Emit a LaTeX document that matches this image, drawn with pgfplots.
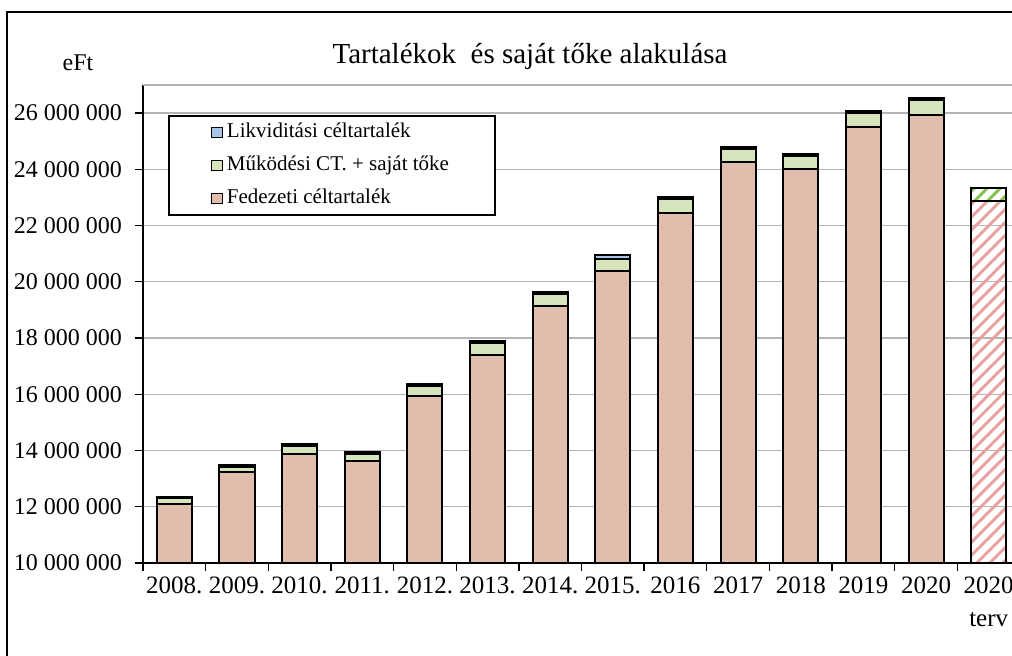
\documentclass[border=0pt]{standalone}
\usepackage{pgfplots}
\pgfplotsset{compat=1.18}
\usepackage{fontspec}
\setmainfont{Liberation Serif}
\usetikzlibrary{patterns.meta}
\definecolor{fedcol}{HTML}{E0BDAC}
\definecolor{grcol}{HTML}{D6E4BB}
\definecolor{blcol}{HTML}{A6C3E8}
\definecolor{tervpink}{HTML}{E8A3A0}
\definecolor{tervgreen}{HTML}{86C44C}
\definecolor{gridgray}{HTML}{B4B4B4}
\pgfplotsset{common/.style={
  scale only axis, width=438.5pt, height=239.06pt,
  at={(71.5pt,46pt)}, anchor=south west,
  xmin=-0.5, xmax=13.5, ymin=10000000, ymax=27000000,
  ybar stacked, bar width=0.56,
}}
\begin{document}
\begin{tikzpicture}
\useasboundingbox (0,0) rectangle (506pt,327.5pt);
\draw[line width=0.75pt] (3.5pt,-5pt) -- (3.5pt,321.5pt) -- (515pt,321.5pt);
\node[font=\fontsize{14.5}{17}\selectfont] at (265pt,299pt) {Tartalékok\ \ és saját tőke alakulása};
\node[font=\fontsize{12}{14}\selectfont] at (39pt,296pt) {eFt};
\begin{axis}[common,
  axis x line*=bottom, axis y line*=left,
  axis line style={-, line width=0.7pt, black},
  tick align=outside, major tick length=4pt,
  tick style={black, line width=0.7pt},
  scaled y ticks=false,
  ytick={10000000,12000000,14000000,16000000,18000000,20000000,22000000,24000000,26000000},
  yticklabels={10 000 000,12 000 000,14 000 000,16 000 000,18 000 000,20 000 000,22 000 000,24 000 000,26 000 000},
  yticklabel style={font=\fontsize{12}{15}\selectfont, xshift=-3pt},
  ymajorgrids, major grid style={color=gridgray, line width=0.7pt},
  extra y ticks={27000000}, extra y tick labels={},
  extra y tick style={grid=major, tick style={draw=none}},
  xtick={-0.5,0.5,...,12.5},
  xticklabels={{},{},{},{},{},{},{},{},{},{},{},{},{},{}},
  extra x ticks={0,1,2,3,4,5,6,7,8,9,10,11,12,13},
  extra x tick labels={2008.,2009.,2010.,2011.,2012.,2013.,2014.,2015.,2016,2017,2018,2019,2020,{2020\\terv}},
  extra x tick style={grid=none, tick style={draw=none},
    xticklabel style={font=\fontsize{12.5}{16.5}\selectfont, align=center, anchor=north, yshift=0.5pt}},
  legend image code/.code={\draw[#1, line width=0.6pt] (0pt,-2.4pt) rectangle (5.5pt,2.4pt);},
  reverse legend,
  legend cell align=left,
  legend style={at={(0.0285,0.937)}, anchor=north west, draw=black, line width=0.8pt,
    inner xsep=21pt, inner ysep=3.5pt, font=\fontsize{10.5}{12}\selectfont, row sep=7pt,
    nodes={inner ysep=0pt, text height=7.5pt, text depth=2pt}},
]
\addplot[fill=fedcol, draw=black, line width=1pt] coordinates {
(0,12100000) (1,13240000) (2,13880000) (3,13630000) (4,15940000) (5,17400000) (6,19140000)
(7,20380000) (8,22440000) (9,24260000) (10,24010000) (11,25500000) (12,25930000)};
\addlegendentry{Fedezeti céltartalék}
\addplot[fill=grcol, draw=black, line width=1pt] coordinates {
(0,200000) (1,190000) (2,270000) (3,250000) (4,360000) (5,430000) (6,440000)
(7,420000) (8,510000) (9,460000) (10,450000) (11,500000) (12,530000)};
\addlegendentry{Működési CT. + saját tőke}
\addplot[fill=blcol, draw=black, line width=1pt] coordinates {
(0,50000) (1,50000) (2,80000) (3,70000) (4,60000) (5,60000) (6,60000)
(7,150000) (8,60000) (9,70000) (10,80000) (11,70000) (12,70000)};
\addlegendentry{Likviditási céltartalék}
\end{axis}
\begin{axis}[common, hide axis]
\addplot[pattern={Lines[angle=45,distance=4.6pt,line width=1.5pt]}, pattern color=tervpink, draw=black, line width=1pt] coordinates {(13,22870000)};
\addplot[pattern={Lines[angle=45,distance=4.6pt,line width=1.5pt]}, pattern color=tervgreen, draw=black, line width=1pt] coordinates {(13,460000)};
\end{axis}
\end{tikzpicture}
\end{document}
